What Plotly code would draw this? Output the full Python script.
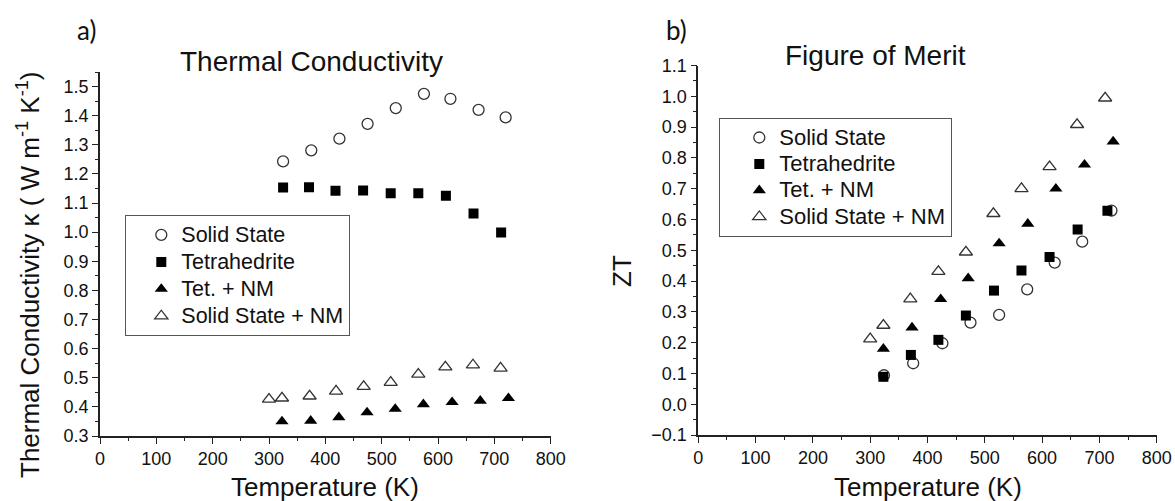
import plotly.graph_objects as go

W, H = 1175, 501

# ---- Panel a) Thermal conductivity ----
ss_T = [325, 375, 425, 475, 525, 575, 622, 672, 720]
ss_k = [1.243, 1.281, 1.321, 1.372, 1.426, 1.475, 1.458, 1.420, 1.394]
tet_T = [325, 371, 418, 467, 516, 565, 614, 663, 712]
tet_k = [1.153, 1.154, 1.142, 1.143, 1.134, 1.134, 1.125, 1.064, 0.999]
tetnm_T = [323, 374, 424, 474, 524, 574, 625, 675, 725]
tetnm_k = [0.350, 0.352, 0.364, 0.381, 0.393, 0.409, 0.416, 0.421, 0.430]
ssnm_T = [300, 323, 372, 419, 468, 516, 565, 613, 662, 711]
ssnm_k = [0.426, 0.430, 0.437, 0.454, 0.470, 0.484, 0.512, 0.537, 0.544, 0.533]

# ---- Panel b) Figure of merit ----
ss_zt_T = [324, 375, 426, 475, 525, 574, 622, 670, 721]
ss_zt = [0.094, 0.133, 0.198, 0.265, 0.290, 0.373, 0.460, 0.528, 0.629]
tet_zt_T = [323, 371, 419, 467, 516, 564, 613, 662, 714]
tet_zt = [0.089, 0.160, 0.209, 0.288, 0.369, 0.434, 0.478, 0.567, 0.628]
tetnm_zt_T = [323, 373, 423, 471, 525, 575, 624, 674, 724]
tetnm_zt = [0.180, 0.249, 0.341, 0.409, 0.522, 0.586, 0.700, 0.778, 0.853]
ssnm_zt_T = [300, 323, 370, 419, 467, 515, 564, 613, 661, 710]
ssnm_zt = [0.212, 0.256, 0.342, 0.431, 0.494, 0.619, 0.700, 0.771, 0.908, 0.994]

names = ["Solid State", "Tetrahedrite", "Tet. + NM", "Solid State + NM"]

FONT = "Liberation Sans, Arial, sans-serif"
OPEN = "#333333"

styles = [
    dict(symbol="circle-open", size=11, color=OPEN, line=dict(width=1.3, color=OPEN)),
    dict(symbol="square", size=10, color="black", line=dict(width=0)),
    dict(symbol="triangle-up", size=11.5, color="black", line=dict(width=0)),
    dict(symbol="triangle-up-open", size=11.5, color=OPEN, line=dict(width=1.3, color=OPEN)),
]

def leg_name(n, px):
    return f'<span style="font-size:{px}px">{n}</span>'

fig = go.Figure()

left = [(ss_T, ss_k), (tet_T, tet_k), (tetnm_T, tetnm_k), (ssnm_T, ssnm_k)]
right = [(ss_zt_T, ss_zt), (tet_zt_T, tet_zt), (tetnm_zt_T, tetnm_zt), (ssnm_zt_T, ssnm_zt)]

for (x, y), nm, st in zip(left, names, styles):
    fig.add_trace(go.Scatter(x=x, y=y, mode="markers", name=leg_name(nm, 21.5), marker=st,
                             xaxis="x", yaxis="y", legend="legend"))
for (x, y), nm, st in zip(right, names, styles):
    fig.add_trace(go.Scatter(x=x, y=y, mode="markers", name=leg_name(nm, 22), marker=st,
                             xaxis="x2", yaxis="y2", legend="legend2"))

def px_x(p):
    return p / W

def px_y(p):
    return 1 - p / H

axis_common = dict(
    showline=True, linecolor="#222", linewidth=1.6, mirror=False,
    ticks="outside", ticklen=6, tickwidth=1.4, tickcolor="#222",
    showgrid=False, zeroline=False, automargin=False,
    tickfont=dict(family=FONT, size=18, color="#111"),
    minor=dict(ticks="outside", ticklen=3.5, tickwidth=1.2, tickcolor="#222", showgrid=False),
)

leg_common = dict(xanchor="left", yanchor="top", bgcolor="white", bordercolor="#555",
                  borderwidth=1.3, tracegroupgap=0)

fig.update_layout(
    width=W, height=H, autosize=False,
    margin=dict(l=0, r=0, t=0, b=0, pad=0, autoexpand=False),
    paper_bgcolor="white", plot_bgcolor="white",
    font=dict(family=FONT, color="#111"),
    xaxis=dict(domain=[px_x(100), px_x(550.7)], range=[0, 800], dtick=100,
               anchor="y", **axis_common),
    yaxis=dict(domain=[px_y(436), px_y(72)], range=[0.3, 1.55], dtick=0.1,
               tick0=0.3, tickformat=".1f", anchor="x", **axis_common),
    xaxis2=dict(domain=[px_x(698.3), px_x(1156.7)], range=[0, 800], dtick=100,
                anchor="y2", **axis_common),
    yaxis2=dict(domain=[px_y(435), px_y(65.5)], range=[-0.1, 1.1], dtick=0.1,
                tick0=-0.1, tickformat=".1f", anchor="x2", **axis_common),
    showlegend=True,
    legend=dict(x=px_x(125), y=px_y(215), indentation=15,
                font=dict(family=FONT, size=18.5, color="#111"), **leg_common),
    legend2=dict(x=px_x(719), y=px_y(118), indentation=19,
                 font=dict(family=FONT, size=18, color="#111"), **leg_common),
)
fig.update_xaxes(minor_dtick=50)
fig.update_yaxes(minor_dtick=0.05)

ann = []
def add_text(text, x, y, size, angle=0, family=FONT):
    ann.append(dict(text=text, x=px_x(x), y=px_y(y), xref="paper", yref="paper",
                    showarrow=False, xanchor="center", yanchor="middle",
                    textangle=angle, font=dict(family=family, size=size, color="#111")))

add_text("Thermal Conductivity", 312, 61, 28)
add_text("Figure of Merit", 875, 56, 28)
add_text("Temperature (K)", 325, 487, 26)
add_text("Temperature (K)", 927.5, 487, 26)
add_text("Thermal Conductivity κ ( W m<sup>-1</sup> K<sup>-1</sup>)", 28, 275, 26, angle=-90)
add_text("ZT", 622, 271, 26, angle=-90)
add_text("a)", 86, 30, 26, family="Lato, Open Sans, sans-serif")
add_text("b)", 676, 30, 26, family="Lato, Open Sans, sans-serif")
fig.update_layout(annotations=ann)

fig.write_html("out.html",
               config={"displayModeBar": False},
               post_script="document.documentElement.style.margin='0';"
                           "document.body.style.margin='0';"
                           "document.body.style.overflow='hidden';")
